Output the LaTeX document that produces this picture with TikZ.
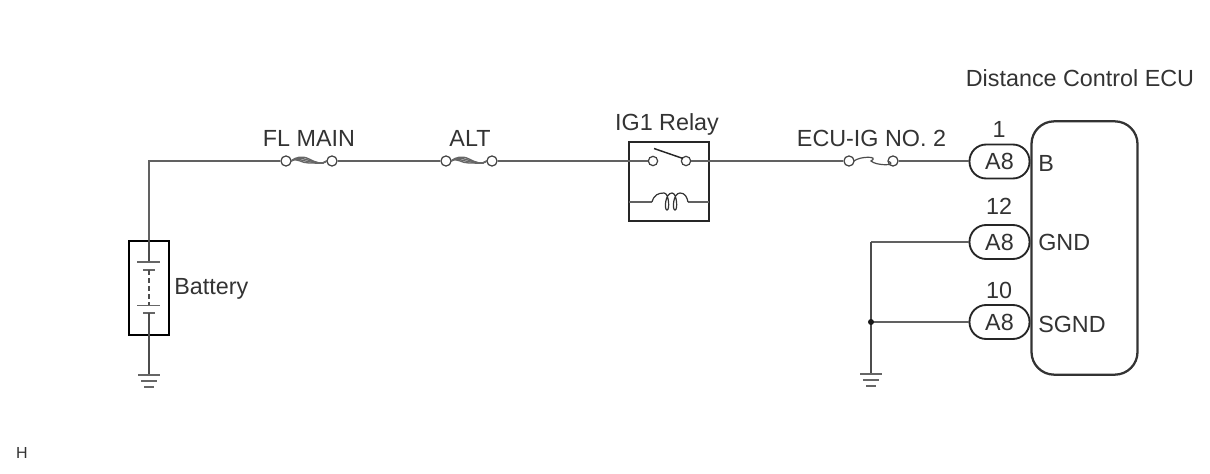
\documentclass[tikz,border=0pt]{standalone}
\usepackage{fontspec}
\setmainfont{Liberation Sans}
\begin{document}
\begin{tikzpicture}[x=0.75pt,y=-0.75pt,
  wire/.style={draw=black!62,line width=1.7pt},
  thinw/.style={draw=black!70,line width=1.2pt},
  box/.style={draw=black!80,line width=1.7pt},
  term/.style={circle,draw=black!75,fill=white,line width=0.9pt,minimum size=7.6pt,inner sep=0pt},
  lbl/.style={text=black!80,font=\fontsize{17.5pt}{19pt}\selectfont,inner sep=0pt},
  pill/.style={draw=black!85,fill=white,line width=1.4pt,rounded corners=12.5pt,minimum width=45pt,minimum height=25.5pt,inner sep=0pt},
  fusewave/.style={draw=black!60,line width=1pt},
  gndl/.style={draw=black!60,line width=1.1pt}]
\useasboundingbox (0,0) rectangle (1210,474);
% ECU
\node[box,rounded corners=17pt,minimum width=79.5pt,minimum height=190pt,inner sep=0pt] (ecu) at (1084.5,248) {};
% corner and grounds
\coordinate (corner) at (149,161);
\coordinate (gndA) at (149,375);
\coordinate (gndB) at (871,374);
\coordinate (cgnd) at (871,242);
\coordinate (dot) at (871,322);
% battery
\node[draw=black,line width=1.5pt,minimum width=30pt,minimum height=70pt,inner sep=0pt] (bat) at (148.5,288) {};
\coordinate (plateA) at (149,262);
\coordinate (plateB) at (149,270);
\coordinate (plateC) at (149,305);
\coordinate (plateD) at (149,313);
% fuses
\node[term] (f1a) at (286,161) {};
\node[term] (f1b) at (332,161) {};
\node[term] (f2a) at (446,161) {};
\node[term] (f2b) at (492,161) {};
\node[term] (f3a) at (849,161) {};
\node[term] (f3b) at (893,161) {};
% relay
\node[draw=black!85,line width=1.7pt,minimum width=60pt,minimum height=59.5pt,inner sep=0pt] (relay) at (669,181.5) {};
\coordinate (coilL) at (629,202);
\coordinate (coilR) at (709,202);
\coordinate (coilA) at (652,202);
\coordinate (coilB) at (688,202);
% connectors
\node[pill] (p1) at (999.5,161.5) {};
\node[pill] (p2) at (999.5,242) {};
\node[pill] (p3) at (999.5,322) {};
% wires
\draw[wire] (f1a) -- (corner) -- (bat.north -| corner);
\draw[wire] (f1b) -- (f2a);
\draw[wire] (f2b) -- (relay.west |- f2b);
\node[term,minimum size=7pt] (sw1) at (653,161) {};
\node[term,minimum size=7pt] (sw2) at (686,161) {};
\draw[wire] (relay.west |- sw1) -- (sw1);
\draw[wire] (sw2) -- (f3a);
\draw[wire] (f3b) -- (f3b -| p1.west);
\draw[wire] (p2) -- (cgnd);
\draw[wire] (p3) -- (dot);
\draw[thinw] (cgnd) -- (gndB);
\fill[black!90] (dot) circle (3);
% battery internals
\draw[thinw] (bat.north -| plateA) -- (plateA);
\draw[gndl] (137,262) -- (160,262);
\draw[gndl] (143,270) -- (155,270);
\draw[thinw,line width=0.9pt,dash pattern=on 3.5pt off 2.5pt] (plateB) -- (plateC);
\draw[gndl] (137,305.5) -- (160,305.5);
\draw[gndl] (143,313) -- (155,313);
\draw[thinw] (plateD) -- (gndA);
% grounds
\foreach \g in {gndA,gndB}{
  \draw[gndl] ([shift={(-11,0)}]\g) -- ([shift={(11,0)}]\g);
  \draw[gndl] ([shift={(-8,6)}]\g) -- ([shift={(8,6)}]\g);
  \draw[gndl] ([shift={(-5,12)}]\g) -- ([shift={(5,12)}]\g);
}
% fuse symbols
\foreach \a/\b in {f1a/f1b,f2a/f2b}{
  \foreach \s in {-2,-0.7,0.7,2}
    \draw[fusewave] ([shift={(5,0)}]\a.center) .. controls +(5,-4) and +(-7,\s-1.5) .. ([shift={(23,\s)}]\a.center) .. controls +(7,1.5-\s) and +(-5,4) .. ([shift={(-5,0)}]\b.center);
}
\draw[thinw,line width=0.9pt] ([shift={(5,0)}]f3a.center) .. controls +(6,-5) and +(9,-5) .. ([shift={(22,0)}]f3a.center) .. controls +(5,5) and +(11,5) .. ([shift={(-5,0)}]f3b.center);
% switch blade
\coordinate (bladeA) at (654,148.5);
\coordinate (bladeB) at (683,158.5);
\draw[draw=black!85,line width=1.1pt] (bladeA) -- (bladeB);
% coil
\draw[wire,line width=1.2pt] (coilL) -- (coilA);
\draw[wire,line width=1.2pt] (coilB) -- (coilR);
\draw[draw=black!80,line width=0.9pt] (coilA) .. controls (654,195) and (658,193) .. (664,193) .. controls (669,193) and (670,210) .. (667,210) .. controls (664,210) and (665,193) .. (672,193) .. controls (677,193) and (678,210) .. (675,210) .. controls (672,210) and (673,193) .. (680,193) .. controls (685,193) and (687,197) .. (coilB);
% labels
\node[lbl] (t1) at (309,138) {FL MAIN};
\node[lbl] (t2) at (470,138) {ALT};
\node[lbl] (t3) at (667,124.5) {IG1 Relay};
\node[lbl] (t4) at (871.5,138) {ECU-IG NO. 2};
\node[lbl] (t5) at (1080,78) {Distance Control ECU};
\node[lbl,anchor=west] (t6) at (174,289) {Battery};
\node[lbl] at (p1) {A8};
\node[lbl] at (p2) {A8};
\node[lbl] at (p3) {A8};
\node[lbl] (n1) at (999,129) {1};
\node[lbl] (n2) at (999,206) {12};
\node[lbl] (n3) at (999,290) {10};
\node[lbl,anchor=west] (s1) at (1038,163) {B};
\node[lbl,anchor=west] (s2) at (1038,242) {GND};
\node[lbl,anchor=west] (s3) at (1038,324) {SGND};
\node[lbl,font=\fontsize{12pt}{14pt}\selectfont] (h) at (22,453) {H};
\end{tikzpicture}
\end{document}
